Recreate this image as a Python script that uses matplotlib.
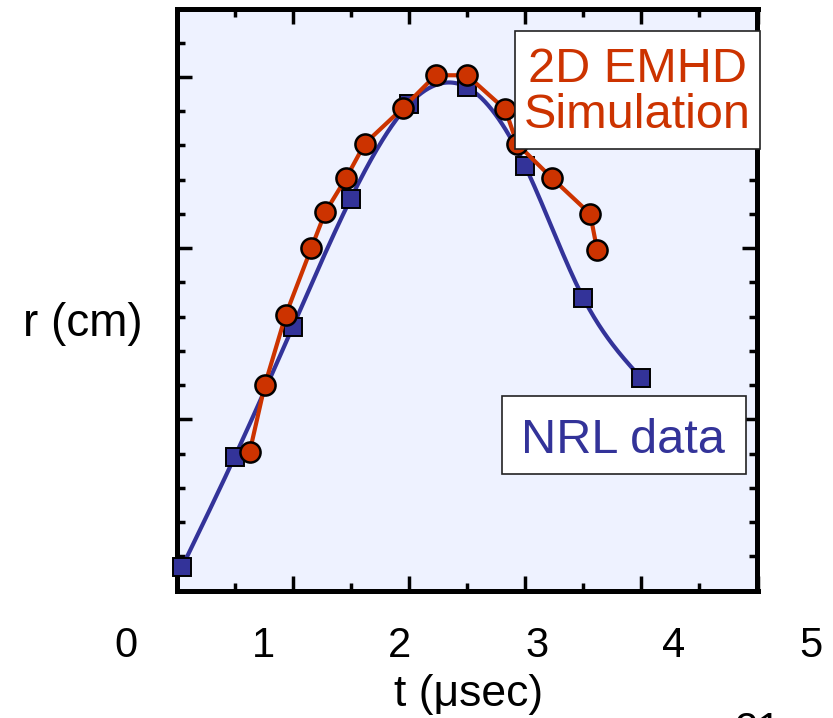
import numpy as np
import matplotlib
matplotlib.use("Agg")
import matplotlib.pyplot as plt
from matplotlib.ticker import MultipleLocator
from matplotlib.patches import Rectangle

plt.rcParams['font.family'] = ['Liberation Sans', 'DejaVu Sans']

# data (x in the frame's own units, r in major-tick units)
t_nrl = [0.05, 0.5, 1.0, 1.5, 2.0, 2.5, 3.0, 3.5, 4.0]
r_nrl = [0.14, 0.78, 1.54, 2.29, 2.84, 2.94, 2.48, 1.71, 1.24]

t_sim = [0.63, 0.76, 0.94, 1.16, 1.28, 1.46, 1.62, 1.95, 2.23, 2.50, 2.83, 2.93, 3.23, 3.56, 3.62]
r_sim = [0.81, 1.20, 1.61, 2.00, 2.21, 2.41, 2.61, 2.82, 3.01, 3.01, 2.81, 2.61, 2.41, 2.20, 1.99]

tick_labels = ['0', '1', '2', '3', '4', '5']

red = '#cc3300'
blue = '#333399'


def natural_spline(x, y, n=400):
    # smooth curve through the NRL points (natural cubic spline)
    x = np.asarray(x, float)
    y = np.asarray(y, float)
    h = np.diff(x)
    m = len(x)
    A = np.zeros((m, m))
    b = np.zeros(m)
    A[0, 0] = A[-1, -1] = 1
    for i in range(1, m - 1):
        A[i, i - 1] = h[i - 1]
        A[i, i] = 2 * (h[i - 1] + h[i])
        A[i, i + 1] = h[i]
        b[i] = 6 * ((y[i + 1] - y[i]) / h[i] - (y[i] - y[i - 1]) / h[i - 1])
    M = np.linalg.solve(A, b)
    xs = np.linspace(x[0], x[-1], n)
    idx = np.clip(np.searchsorted(x, xs) - 1, 0, m - 2)
    x0, x1 = x[idx], x[idx + 1]
    hh = x1 - x0
    ys = (M[idx] * (x1 - xs) ** 3 / (6 * hh) + M[idx + 1] * (xs - x0) ** 3 / (6 * hh)
          + (y[idx] / hh - M[idx] * hh / 6) * (x1 - xs)
          + (y[idx + 1] / hh - M[idx + 1] * hh / 6) * (xs - x0))
    return xs, ys


W, H = 833, 718
fig = plt.figure(figsize=(W / 100, H / 100), dpi=100)
ax = fig.add_axes([176.5 / W, 1 - 590.5 / H, 581 / W, 582 / H])
ax.set_facecolor('#eef2ff')

xs, ys = natural_spline(t_nrl, r_nrl)
ax.plot(xs, ys, color=blue, lw=3, zorder=3)
ax.plot(t_nrl, r_nrl, ls='none', marker='s', ms=13, mfc=blue, mec='black', mew=1.4,
        zorder=4, clip_on=False)
ax.plot(t_sim, r_sim, color=red, lw=3, marker='o', ms=14.5, mfc=red, mec='black',
        mew=1.8, zorder=5)

ax.set_xlim(0, 5)
ax.set_ylim(0, 3.4)
ax.xaxis.set_major_locator(MultipleLocator(1))
ax.xaxis.set_minor_locator(MultipleLocator(0.5))
ax.yaxis.set_major_locator(MultipleLocator(1))
ax.yaxis.set_minor_locator(MultipleLocator(0.2))
ax.tick_params(which='both', direction='in', top=True, right=True,
               labelbottom=False, labelleft=False, width=2.5, color='black')
ax.tick_params(which='major', length=10.5)
ax.tick_params(which='minor', length=6)
for s in ax.spines.values():
    s.set_linewidth(3.6)

# the slide's own t scale, placed under the frame
lab = fig.add_axes([126 / W, 1 - 620 / H, 685 / W, 0.001])
lab.set_xlim(0, 5)
lab.set_xticks(range(len(tick_labels)))
lab.set_xticklabels(tick_labels, fontsize=30)
lab.tick_params(axis='x', length=0, pad=4)
lab.set_yticks([])
for s in lab.spines.values():
    s.set_visible(False)
lab.patch.set_visible(False)
lab.set_xlabel('t (\u03bcsec)', fontsize=32, labelpad=6)

fig.text(83 / W, 1 - 324 / H, 'r (cm)', fontsize=33, ha='center', va='center')

# label boxes
fig.patches.append(Rectangle((515 / W, 1 - 149 / H), 245 / W, 118 / H, transform=fig.transFigure,
                             facecolor='white', edgecolor='#222222', lw=1.2, zorder=10))
fig.text(637 / W, 1 - 82 / H, '2D EMHD', fontsize=35, color=red, ha='center', va='baseline', zorder=11)
fig.text(637 / W, 1 - 128 / H, 'Simulation', fontsize=35, color=red, ha='center', va='baseline', zorder=11)

fig.patches.append(Rectangle((502 / W, 1 - 474 / H), 244 / W, 78 / H, transform=fig.transFigure,
                             facecolor='white', edgecolor='#222222', lw=1.2, zorder=10))
fig.text(623 / W, 1 - 453 / H, 'NRL data', fontsize=35, color=blue, ha='center', va='baseline', zorder=11)

# slide number, cut off by the bottom edge as in the source slide
fig.text(758 / W, 1 - 711 / H, '21', fontsize=30, ha='center', va='top')

fig.savefig('out.png', dpi=100)
